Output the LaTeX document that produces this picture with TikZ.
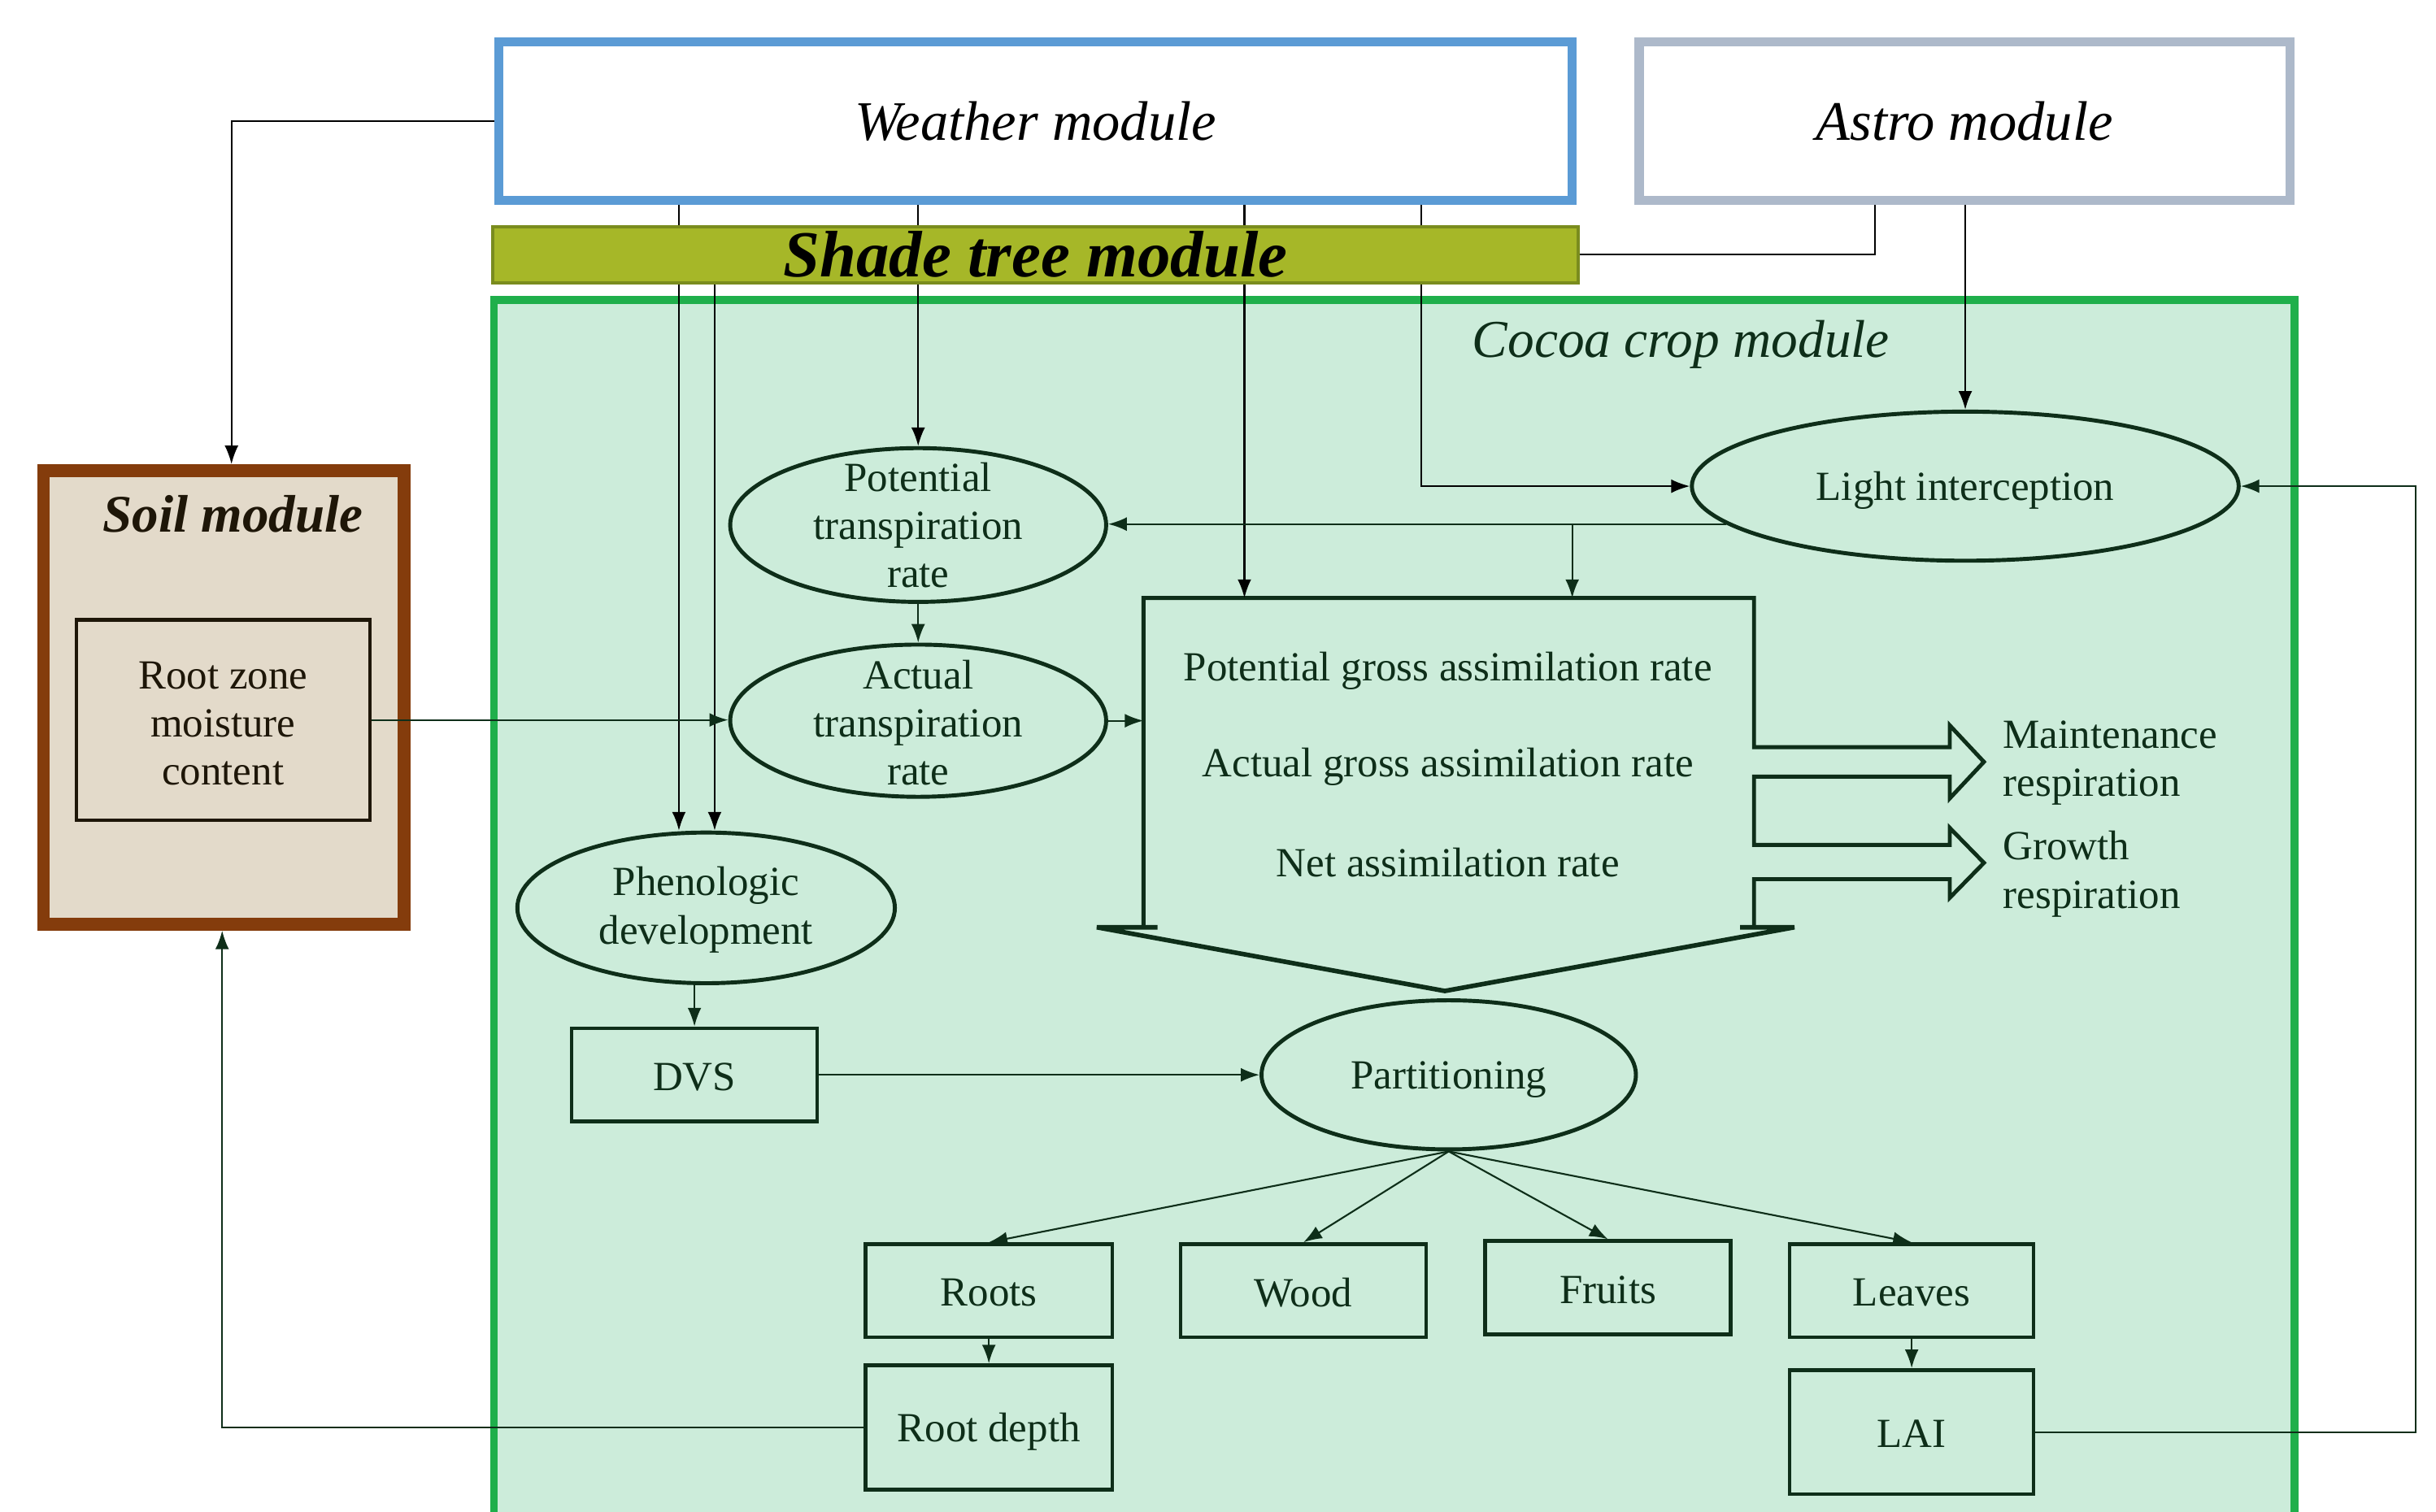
\documentclass[tikz,border=0pt]{standalone}
\usepackage{fontspec}
\setmainfont{Liberation Serif}
\usetikzlibrary{shapes.geometric,arrows.meta}
\newcommand\pxu{0.019107cm}
\newcommand\bodyfont{\fontsize{14.5}{16.85}\selectfont}
\definecolor{wblue}{HTML}{5B9BD5}
\definecolor{astrogrey}{HTML}{ADB9CA}
\definecolor{shadefill}{HTML}{A6B728}
\definecolor{shadeline}{HTML}{7A8C1E}
\definecolor{cropfill}{HTML}{CCECDA}
\definecolor{cropline}{HTML}{1FAF4B}
\definecolor{soilbr}{HTML}{843C0C}
\definecolor{soilfill}{HTML}{E3DACA}
\definecolor{dk}{HTML}{0E2E19}
\definecolor{soiltext}{HTML}{1E1608}
\begin{document}
\begin{tikzpicture}[x=\pxu, y=-\pxu,
  sz/.style 2 args={minimum width=#1*\pxu, minimum height=#2*\pxu},
  ell/.style={ellipse, draw=dk, line width=1.4pt, inner sep=0pt},
  bx/.style={rectangle, draw=dk, line width=1.3pt, inner sep=0pt},
  lbl/.style={align=center, font=\bodyfont, text=dk, inner sep=0pt, yshift=-0.7pt},
  lbld/.style={lbl, yshift=-0.9pt},
  conn/.style={draw=dk, line width=0.6pt, -{Latex[length=6.5pt,width=4.8pt]}},
  blk/.style={draw=black, line width=0.6pt, -{Latex[length=6.5pt,width=4.8pt]}},
  plainblk/.style={draw=black, line width=0.6pt},
  shapeline/.style={draw=dk, line width=1.4pt, line join=miter},
  modlbl/.style={font=\fontsize{19.5}{22}\selectfont\itshape, text=black}
]
\useasboundingbox (0,0) rectangle (1568,973);

% helper coordinates for connector columns
\coordinate (x143) at (143,0);
\coordinate (x149) at (149,0);
\coordinate (x437) at (437,0);
\coordinate (x460) at (460,0);
\coordinate (x801) at (801,0);
\coordinate (x915) at (915,0);
\coordinate (x1012) at (1012,0);
\coordinate (x1207) at (1207,0);
\coordinate (x1555) at (1555,0);

% cocoa crop module container
\fill[cropfill] (318,193) rectangle (1477,980);
\draw[cropline, line width=2.7pt] (318,985) -- (318,193) -- (1477,193) -- (1477,985);
\node[font=\fontsize{18.6}{21}\selectfont\itshape, text=dk] (croplbl) at (1082,222) {Cocoa crop module};

% top modules
\node[draw=wblue, line width=3.25pt, fill=white, sz={691}{102}] (weather) at (666.5,78) {};
\node[modlbl] (weatherlbl) at (weather.center) {Weather module};
\node[draw=astrogrey, line width=3.25pt, fill=white, sz={419}{102}] (astro) at (1264.5,78) {};
\node[modlbl] (astrolbl) at (astro.center) {Astro module};
\node[draw=shadeline, fill=shadefill, line width=1.2pt, sz={699}{36}] (shade) at (666.5,164) {};
\node[font=\fontsize{23}{26}\selectfont\bfseries\itshape, text=black] (shadelbl) at (shade.center) {Shade tree module};

% soil module
\node[draw=soilbr, line width=4.5pt, fill=soilfill, sz={232}{292}] (soil) at (144,449) {};
\node[font=\fontsize{18.5}{22}\selectfont\bfseries\itshape, text=soiltext] (soillbl) at (150,331) {Soil module};
\node[draw=soiltext, line width=1.2pt, sz={189}{129}] (rz) at (143.5,463.5) {};
\node[lbl, text=soiltext, yshift=-0.6pt] (rzlbl) at (rz.center) {Root zone\\moisture\\content};

% ellipses
\node[ell, sz={242}{99}] (pt) at (591,338) {};
\node[lbl, yshift=0.6pt] (ptlbl) at (pt.center) {Potential\\transpiration\\rate};
\node[ell, sz={242}{98}] (at) at (591,464) {};
\node[lbl] (atlbl) at (at.center) {Actual\\transpiration\\rate};
\node[ell, sz={243}{97}] (phen) at (454.5,584.5) {};
\node[lbl] (phenlbl) at (phen.center) {Phenologic\\development};
\node[ell, sz={352}{96}] (li) at (1265,313) {};
\node[lbld] (lilbl) at (li.center) {Light interception};
\node[ell, sz={241}{96}] (part) at (932.5,692) {};
\node[lbld] (partlbl) at (part.center) {Partitioning};

% boxes
\node[bx, sz={158}{60}] (dvs) at (447,692) {};
\node[lbl] (dvslbl) at (dvs.center) {DVS};
\node[bx, sz={159}{60}] (roots) at (636.5,831) {};
\node[lbl] (rootslbl) at (roots.center) {Roots};
\node[bx, sz={158}{60}] (wood) at (839,831) {};
\node[lbl] (woodlbl) at (wood.center) {Wood};
\node[bx, sz={158}{60}] (fruits) at (1035,829) {};
\node[lbl] (fruitslbl) at (fruits.center) {Fruits};
\node[bx, sz={157}{60}] (leaves) at (1230.5,831) {};
\node[lbl] (leaveslbl) at (leaves.center) {Leaves};
\node[bx, sz={159}{80}] (rd) at (636.5,919) {};
\node[lbld] (rdlbl) at (rd.center) {Root depth};
\node[bx, sz={157}{80}] (lai) at (1230.5,922) {};
\node[lbl] (lailbl) at (lai.center) {LAI};

% assimilation block
\node[inner sep=0pt, outer sep=0pt, sz={393}{212}] (assim) at (932.5,491) {};
\draw[shapeline] (assim.south west) -- (assim.north west) -- (assim.north east)
  -- (1129,481) -- (1255,481) -- (1255,467) -- (1277,490.5) -- (1255,514) -- (1255,500) -- (1129,500)
  -- (1129,544) -- (1255,544) -- (1255,533) -- (1277,555.5) -- (1255,578) -- (1255,566) -- (1129,566)
  -- (assim.south east);
\draw[shapeline, line width=1.6pt] (745,597) -- (706,597) -- (930,638) -- (1155,597) -- (1120,597);
\node[lbld] (pga) at (932,429) {Potential gross assimilation rate};
\node[lbld] (aga) at (932,491) {Actual gross assimilation rate};
\node[lbl] (nar) at (932,554) {Net assimilation rate};
\node[lbl, align=left, anchor=west] (mresp) at (1289,490) {Maintenance\\respiration};
\node[lbl, align=left, anchor=west] (gresp) at (1289,561.5) {Growth\\respiration};

% connectors from outer modules (hidden behind the shade tree bar)
\draw[blk] (weather.west) -| (x149 |- soil.north);
\draw[plainblk] (x437 |- weather.south) -- (x437 |- shade.north);
\draw[blk] (x437 |- shade.south) -- (x437 |- phen.north);
\draw[blk] (x460 |- shade.south) -- (x460 |- phen.north);
\draw[plainblk] (pt.north |- weather.south) -- (pt.north |- shade.north);
\draw[blk] (pt.north |- shade.south) -- (pt.north);
\draw[plainblk] (x801 |- weather.south) -- (x801 |- shade.north);
\draw[blk] (x801 |- shade.south) -- (x801 |- assim.north);
\draw[plainblk] (x915 |- weather.south) -- (x915 |- shade.north);
\draw[blk] (x915 |- shade.south) |- (li.west);
\draw[plainblk] (astro.south -| x1207) |- (shade.east);
\draw[blk] (li.north |- astro.south) -- (li.north);

% inner connectors
\draw[conn] (li.189) -- (li.189 -| pt.east);
\draw[conn] (x1012 |- li.189) -- (x1012 |- assim.north);
\draw[conn] (pt.south) -- (at.north);
\draw[conn] (rz.east) -- (rz.east -| at.west);
\draw[conn] (at.east) -- (at.east -| assim.west);
\draw[conn] (dvs.north |- phen.south) -- (dvs.north);
\draw[conn] (dvs.east) -- (dvs.east -| part.west);
\draw[conn] (part.south) -- (roots.north);
\draw[conn] (part.south) -- (wood.north);
\draw[conn] (part.south) -- (fruits.north);
\draw[conn] (part.south) -- (leaves.north);
\draw[conn] (roots.south) -- (rd.north);
\draw[conn] (leaves.south) -- (lai.north);
\draw[conn] (rd.west) -| (x143 |- soil.south);
\draw[conn] (lai.east) -- (x1555 |- lai.east) |- (li.east);
\end{tikzpicture}
\end{document}
